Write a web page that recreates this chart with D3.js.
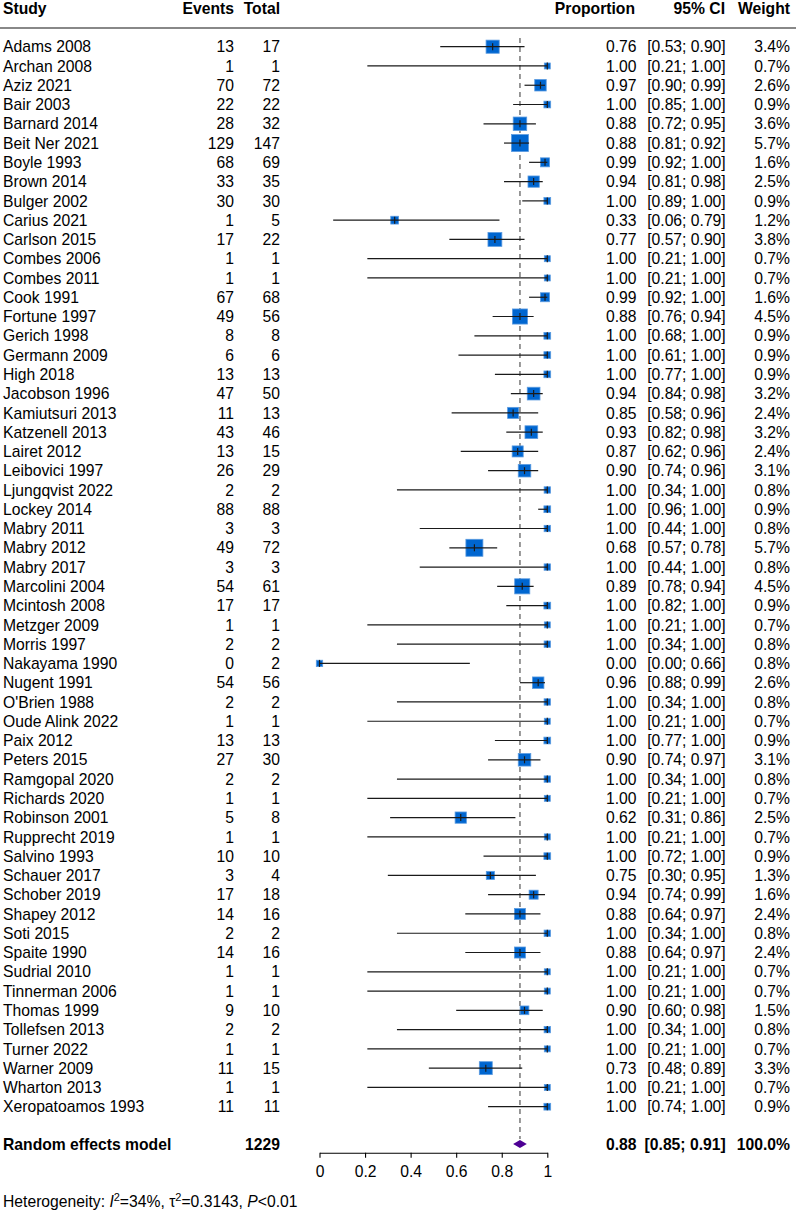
<!DOCTYPE html>
<html>
<head>
<meta charset="utf-8">
<script src="https://cdn.jsdelivr.net/npm/d3@7"></script>
<style>
  body { margin: 0; background: #fff; }
  svg { display: block; font-family: "Liberation Sans", Arial, Helvetica, sans-serif; }
</style>
</head>
<body>
<script>
// study data
var studies = ["Adams 2008","Archan 2008","Aziz 2021","Bair 2003","Barnard 2014","Beit Ner 2021","Boyle 1993","Brown 2014","Bulger 2002","Carius 2021","Carlson 2015","Combes 2006","Combes 2011","Cook 1991","Fortune 1997","Gerich 1998","Germann 2009","High 2018","Jacobson 1996","Kamiutsuri 2013","Katzenell 2013","Lairet 2012","Leibovici 1997","Ljungqvist 2022","Lockey 2014","Mabry 2011","Mabry 2012","Mabry 2017","Marcolini 2004","Mcintosh 2008","Metzger 2009","Morris 1997","Nakayama 1990","Nugent 1991","O'Brien 1988","Oude Alink 2022","Paix 2012","Peters 2015","Ramgopal 2020","Richards 2020","Robinson 2001","Rupprecht 2019","Salvino 1993","Schauer 2017","Schober 2019","Shapey 2012","Soti 2015","Spaite 1990","Sudrial 2010","Tinnerman 2006","Thomas 1999","Tollefsen 2013","Turner 2022","Warner 2009","Wharton 2013","Xeropatoamos 1993"];
var events = [13,1,70,22,28,129,68,33,30,1,17,1,1,67,49,8,6,13,47,11,43,13,26,2,88,3,49,3,54,17,1,2,0,54,2,1,13,27,2,1,5,1,10,3,17,14,2,14,1,1,9,2,1,11,1,11];
var totals = [17,1,72,22,32,147,69,35,30,5,22,1,1,68,56,8,6,13,50,13,46,15,29,2,88,3,72,3,61,17,1,2,2,56,2,1,13,30,2,1,8,1,10,4,18,16,2,16,1,1,10,2,1,15,1,11];
var prop = [0.76,1.00,0.97,1.00,0.88,0.88,0.99,0.94,1.00,0.33,0.77,1.00,1.00,0.99,0.88,1.00,1.00,1.00,0.94,0.85,0.93,0.87,0.90,1.00,1.00,1.00,0.68,1.00,0.89,1.00,1.00,1.00,0.00,0.96,1.00,1.00,1.00,0.90,1.00,1.00,0.62,1.00,1.00,0.75,0.94,0.88,1.00,0.88,1.00,1.00,0.90,1.00,1.00,0.73,1.00,1.00];
var lower = [0.53,0.21,0.90,0.85,0.72,0.81,0.92,0.81,0.89,0.06,0.57,0.21,0.21,0.92,0.76,0.68,0.61,0.77,0.84,0.58,0.82,0.62,0.74,0.34,0.96,0.44,0.57,0.44,0.78,0.82,0.21,0.34,0.00,0.88,0.34,0.21,0.77,0.74,0.34,0.21,0.31,0.21,0.72,0.30,0.74,0.64,0.34,0.64,0.21,0.21,0.60,0.34,0.21,0.48,0.21,0.74];
var upper = [0.90,1.00,0.99,1.00,0.95,0.92,1.00,0.98,1.00,0.79,0.90,1.00,1.00,1.00,0.94,1.00,1.00,1.00,0.98,0.96,0.98,0.96,0.96,1.00,1.00,1.00,0.78,1.00,0.94,1.00,1.00,1.00,0.66,0.99,1.00,1.00,1.00,0.97,1.00,1.00,0.86,1.00,1.00,0.95,0.99,0.97,1.00,0.97,1.00,1.00,0.98,1.00,1.00,0.89,1.00,1.00];
var weight = [3.4,0.7,2.6,0.9,3.6,5.7,1.6,2.5,0.9,1.2,3.8,0.7,0.7,1.6,4.5,0.9,0.9,0.9,3.2,2.4,3.2,2.4,3.1,0.8,0.9,0.8,5.7,0.8,4.5,0.9,0.7,0.8,0.8,2.6,0.8,0.7,0.9,3.1,0.8,0.7,2.5,0.7,0.9,1.3,1.6,2.4,0.8,2.4,0.7,0.7,1.5,0.8,0.7,3.3,0.7,0.9];

// pooled estimate
var pooled = {label: "Random effects model", total: 1229, est: 0.88, lo: 0.85, hi: 0.91, weight: "100.0%"};
var xTicks = [0, 0.2, 0.4, 0.6, 0.8, 1];

var W = 796, H = 1231, fs = 15.7;
var svg = d3.select("body").append("svg").attr("width", W).attr("height", H);

var x = d3.scaleLinear().domain([0, 1]).range([319.5, 547.3]);
var y = d3.scalePoint().domain(studies).range([46.7, 1106.7]);
var size = d3.scaleSqrt().domain([0, 5.7]).range([0, 17]);
var f2 = d3.format(".2f");

var rows = studies.map(function(s, i){
  return {study: s, ev: events[i], n: totals[i], p: prop[i], lo: lower[i], hi: upper[i], w: weight[i]};
});

// header
var head = svg.append("g").attr("font-weight", "bold").attr("font-size", fs);
head.append("text").attr("x", 3).attr("y", 14).text("Study");
head.append("text").attr("x", 234).attr("y", 14).attr("text-anchor", "end").text("Events");
head.append("text").attr("x", 280).attr("y", 14).attr("text-anchor", "end").text("Total");
head.append("text").attr("x", 635).attr("y", 14).attr("text-anchor", "end").text("Proportion");
head.append("text").attr("x", 725).attr("y", 14).attr("text-anchor", "end").text("95% CI");
head.append("text").attr("x", 790).attr("y", 14).attr("text-anchor", "end").text("Weight");
svg.append("line").attr("x1", 0).attr("x2", W).attr("y1", 28).attr("y2", 28)
  .attr("stroke", "#888").attr("stroke-width", 2);

// reference line at pooled estimate
var yPool = 1144;
svg.append("line")
  .attr("x1", x(pooled.est)).attr("x2", x(pooled.est))
  .attr("y1", 38).attr("y2", yPool - 5)
  .attr("stroke", "#777").attr("stroke-width", 1.5).attr("stroke-dasharray", "5,4");

// study marks
var g = svg.selectAll("g.row").data(rows).enter().append("g").attr("class", "row")
  .attr("transform", function(d){ return "translate(0," + y(d.study) + ")"; });

g.append("rect")
  .attr("x", function(d){ return x(d.p) - size(d.w) / 2; })
  .attr("y", function(d){ return -size(d.w) / 2; })
  .attr("width", function(d){ return size(d.w); })
  .attr("height", function(d){ return size(d.w); })
  .attr("fill", "#0066d0").attr("stroke", "#5b9be0").attr("stroke-width", 0.8);

g.append("line")
  .attr("x1", function(d){ return x(d.lo); }).attr("x2", function(d){ return x(d.hi); })
  .attr("y1", 0).attr("y2", 0).attr("stroke", "#1a1a1a").attr("stroke-width", 1.2);

g.append("line")
  .attr("x1", function(d){ return x(d.p); }).attr("x2", function(d){ return x(d.p); })
  .attr("y1", -3.5).attr("y2", 3.5).attr("stroke", "#1a1a1a").attr("stroke-width", 1.2);

// text columns
var txt = g.append("g").attr("font-size", fs).attr("fill", "#000");
txt.append("text").attr("x", 3).attr("dy", "0.36em").text(function(d){ return d.study; });
txt.append("text").attr("x", 234).attr("dy", "0.36em").attr("text-anchor", "end").text(function(d){ return d.ev; });
txt.append("text").attr("x", 280).attr("dy", "0.36em").attr("text-anchor", "end").text(function(d){ return d.n; });
txt.append("text").attr("x", 636.5).attr("dy", "0.36em").attr("text-anchor", "end").text(function(d){ return f2(d.p); });
txt.append("text").attr("x", 725.7).attr("dy", "0.36em").attr("text-anchor", "end")
  .text(function(d){ return "[" + f2(d.lo) + "; " + f2(d.hi) + "]"; });
txt.append("text").attr("x", 790).attr("dy", "0.36em").attr("text-anchor", "end").text(function(d){ return d.w.toFixed(1) + "%"; });

// pooled row
var pr = svg.append("g").attr("transform", "translate(0," + yPool + ")")
  .attr("font-size", fs).attr("font-weight", "bold");
pr.append("text").attr("x", 3).attr("dy", "0.36em").text(pooled.label);
pr.append("text").attr("x", 280).attr("dy", "0.36em").attr("text-anchor", "end").text(pooled.total);
pr.append("text").attr("x", 636.5).attr("dy", "0.36em").attr("text-anchor", "end").text(f2(pooled.est));
pr.append("text").attr("x", 725.7).attr("dy", "0.36em").attr("text-anchor", "end")
  .text("[" + f2(pooled.lo) + "; " + f2(pooled.hi) + "]");
pr.append("text").attr("x", 790).attr("dy", "0.36em").attr("text-anchor", "end").text(pooled.weight);
pr.append("path")
  .attr("d", "M" + x(pooled.lo) + ",0L" + x(pooled.est) + ",-4L" + x(pooled.hi) + ",0L" + x(pooled.est) + ",4Z")
  .attr("fill", "#4d0094");

// x axis
var ax = svg.append("g").attr("transform", "translate(0,1152.7)")
  .call(d3.axisBottom(x).tickValues(xTicks).tickFormat(function(d){ return String(d); })
    .tickSize(5).tickSizeOuter(0).tickPadding(8));
ax.selectAll("text").attr("font-size", fs).attr("font-family", "Liberation Sans, Arial, sans-serif").attr("fill", "#000");
ax.selectAll("line, path").attr("stroke", "#000").attr("stroke-width", 1.1);

// heterogeneity note
var het = svg.append("text").attr("x", 3).attr("y", 1207).attr("font-size", fs);
het.append("tspan").text("Heterogeneity: ");
het.append("tspan").attr("font-style", "italic").text("I");
het.append("tspan").attr("font-size", fs * 0.7).attr("dy", -6).text("2");
het.append("tspan").attr("dy", 6).text("=34%, \u03C4");
het.append("tspan").attr("font-size", fs * 0.7).attr("dy", -6).text("2");
het.append("tspan").attr("dy", 6).text("=0.3143, ");
het.append("tspan").attr("font-style", "italic").text("P");
het.append("tspan").text("<0.01");
</script>
</body>
</html>
